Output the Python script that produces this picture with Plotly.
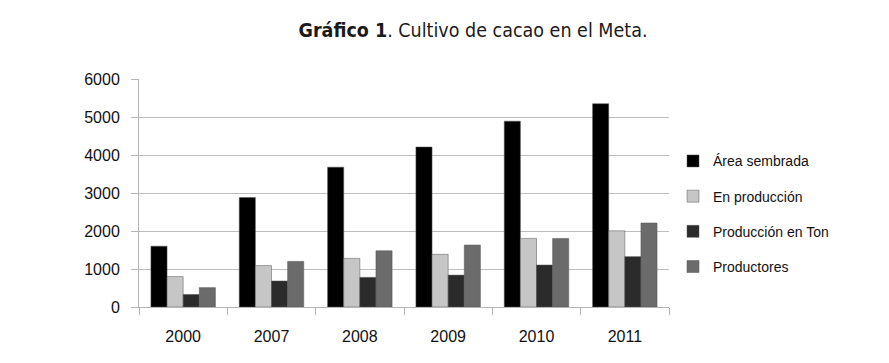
import plotly.graph_objects as go

years = ["2000", "2007", "2008", "2009", "2010", "2011"]
area_sembrada = [1600, 2880, 3680, 4210, 4890, 5350]
en_produccion = [800, 1090, 1280, 1385, 1805, 2005]
produccion_ton = [330, 685, 780, 840, 1105, 1325]
productores = [510, 1200, 1480, 1630, 1805, 2210]

series = [
    ("Área sembrada", area_sembrada, "#000000"),
    ("En producción", en_produccion, "#c6c6c6"),
    ("Producción en Ton", produccion_ton, "#2b2b2b"),
    ("Productores", productores, "#6b6b6b"),
]

fig = go.Figure()
for i, (name, vals, col) in enumerate(series):
    fig.add_trace(go.Bar(
        x=years, y=vals, name=name, legendgroup=str(i),
        marker=dict(color=col, line=dict(color="#555555", width=0.5)),
    ))

W, H = 873, 347
fig.update_layout(
    width=W, height=H,
    margin=dict(l=131, r=212, t=71, b=48, autoexpand=False),
    paper_bgcolor="white", plot_bgcolor="white",
    barmode="group", bargap=0.27, bargroupgap=0,
    font=dict(family="Liberation Sans, Arial, sans-serif", color="#111111"),
    title=dict(
        text="<b>Gráfico 1</b>. Cultivo de cacao en el Meta.",
        font=dict(family="DejaVu Sans Condensed, Liberation Sans", size=19.5, color="#1a1a1a"),
        x=(473 - 8) / W, xanchor="center", y=1 - 22 / H, yanchor="middle",
    ),
    legend=dict(
        x=534 / 530, xanchor="left", y=0.709, yanchor="top",
        font=dict(size=14, color="#111111"), tracegroupgap=14,
        itemwidth=30, bgcolor="rgba(0,0,0,0)",
    ),
    showlegend=True,
)
fig.update_yaxes(
    range=[0, 6000], tickvals=[0, 1000, 2000, 3000, 4000, 5000, 6000],
    showgrid=True, gridcolor="#bdbdbd", gridwidth=1,
    showline=True, linecolor="#b5b5b5", linewidth=1,
    ticks="outside", ticklen=7, tickcolor="#b5b5b5",
    tickfont=dict(size=16, color="#111111"), zeroline=False, automargin=False,
    ticklabelstandoff=8,
)
fig.update_xaxes(
    type="category", showgrid=False,
    showline=True, linecolor="#b5b5b5", linewidth=1,
    ticks="outside", ticklen=7, tickcolor="#b5b5b5", tickson="boundaries",
    tickfont=dict(size=16, color="#111111"), ticklabelstandoff=15, automargin=False,
)

fig.write_html("out.html")
